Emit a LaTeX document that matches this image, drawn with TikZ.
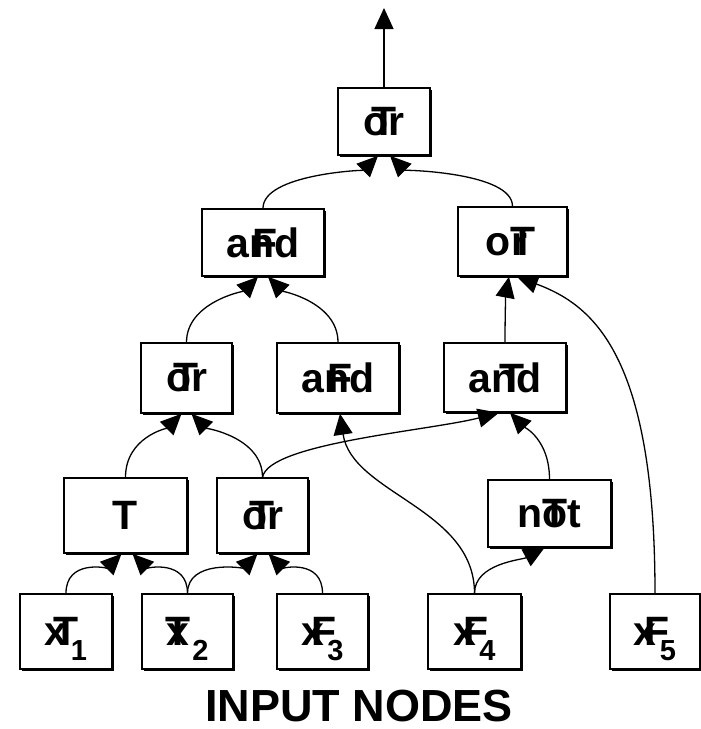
\documentclass[tikz,border=0pt]{standalone}
\usepackage{fontspec}
\setmainfont{Liberation Sans}
\usetikzlibrary{arrows.meta,shadows}
\newcommand\ovr[2]{\rlap{\kern#1#2}}
\newcommand\sbs[1]{\kern0.08em\smash{\raisebox{-15pt}{\fontsize{29}{29}\selectfont #1}}}
\begin{document}
\begin{tikzpicture}[x=1pt,y=1pt,
  box/.style={draw, line width=1.5pt, fill=white, inner sep=0pt,
    font=\bfseries\fontsize{41}{41}\selectfont,
    general shadow={fill=black, shadow xshift=1.6pt, shadow yshift=-1.6pt}},
  conn/.style={line width=1.3pt, -{Triangle[length=21pt,width=19pt]}},
  fl/.style={to path={.. controls +(0,#1) and +(-14,-14) .. (\tikztotarget)}},
  fr/.style={to path={.. controls +(0,#1) and +(14,-14) .. (\tikztotarget)}}]
\useasboundingbox (0,0) rectangle (701,-729);
% level 1
\node[box, minimum width=92pt, minimum height=67pt] (top) at (384,-121.5) {o\ovr{-0.42em}{T}r};
% level 2
\node[box, minimum width=122pt, minimum height=67pt] (andL) at (263,-242.5) {a\ovr{0.08em}{F}nd};
\node[box, minimum width=109pt, minimum height=69pt] (orR) at (512.5,-241.5) {o\ovr{0.02em}{r}T\kern0.1em};
% level 3
\node[box, minimum width=91pt, minimum height=70pt] (orL3) at (186.5,-378) {o\ovr{-0.42em}{T}r};
\node[box, minimum width=122pt, minimum height=70pt] (andM) at (338,-378) {a\ovr{0.08em}{F}nd};
\node[box, minimum width=122pt, minimum height=69pt] (andR) at (505,-377.5) {a\ovr{0.2em}{T}nd};
% level 4
\node[box, minimum width=123pt, minimum height=75pt] (T4) at (125.5,-515.5) {T};
\node[box, minimum width=91pt, minimum height=75pt] (or4) at (262.5,-515.5) {o\ovr{-0.42em}{T}r};
\node[box, minimum width=123pt, minimum height=67pt] (not) at (549.5,-513.5) {n\ovr{0em}{T}ot};
% inputs
\node[box, minimum width=92pt, minimum height=75pt] (x1) at (66,-631.5) {\ovr{0.2em}{T}x\sbs{1}};
\node[box, minimum width=91pt, minimum height=75pt] (x2) at (187.5,-631.5) {\ovr{-0.03em}{T}x\sbs{2}};
\node[box, minimum width=91pt, minimum height=75pt] (x3) at (322.5,-631.5) {\ovr{0.25em}{F}x\sbs{3}};
\node[box, minimum width=93pt, minimum height=75pt] (x4) at (474.5,-631.5) {\ovr{0.25em}{F}x\sbs{4}};
\node[box, minimum width=90pt, minimum height=75pt] (x5) at (655,-631.5) {\ovr{0.25em}{F}x\sbs{5}};
\node[font=\bfseries\fontsize{45}{45}\selectfont, anchor=base, inner sep=0pt] (lbl) at (359,-721) {INPUT NODES};
% output arrow
\coordinate (out) at (384,-8);
\draw[conn] (top.north) -- (out);
% edges
\draw[conn] (andL.north) to[fl=34] ([xshift=-6pt]top.south);
\draw[conn] (orR.north) to[fr=34] ([xshift=6pt]top.south);
\draw[conn] (orL3.north) to[fl=40] ([xshift=-5pt]andL.south);
\draw[conn] (andM.north) to[fr=40] ([xshift=5pt]andL.south);
\draw[conn] (andR.north) .. controls +(0,30) and +(-3,-16) .. ([xshift=-3.5pt]orR.south);
\draw[conn] (x5.north) .. controls +(0,240) and +(75,-28) .. ([xshift=4.5pt]orR.south);
\draw[conn] (T4.north) to[fl=40] ([xshift=-5pt]orL3.south);
\draw[conn] (or4.north) to[fr=40] ([xshift=5pt]orL3.south);
\draw[conn] (or4.north) .. controls +(6,34) and +(-70,-18) .. ([xshift=-6pt]andR.south);
\draw[conn] (x4.north) .. controls +(0,85) and +(12,-80) .. ([xshift=2pt]andM.south);
\draw[conn] (not.north) to[fr=40] ([xshift=5pt]andR.south);
\draw[conn] (x4.north) .. controls +(0,30) and +(-22,-12) .. ([xshift=-5pt]not.south);
\draw[conn] (x1.north) to[fl=34] ([xshift=-4pt]T4.south);
\draw[conn] (x2.north) to[fr=34] ([xshift=7pt]T4.south);
\draw[conn] (x2.north) to[fl=34] ([xshift=-5pt]or4.south);
\draw[conn] (x3.north) to[fr=34] ([xshift=6pt]or4.south);
\end{tikzpicture}
\end{document}
